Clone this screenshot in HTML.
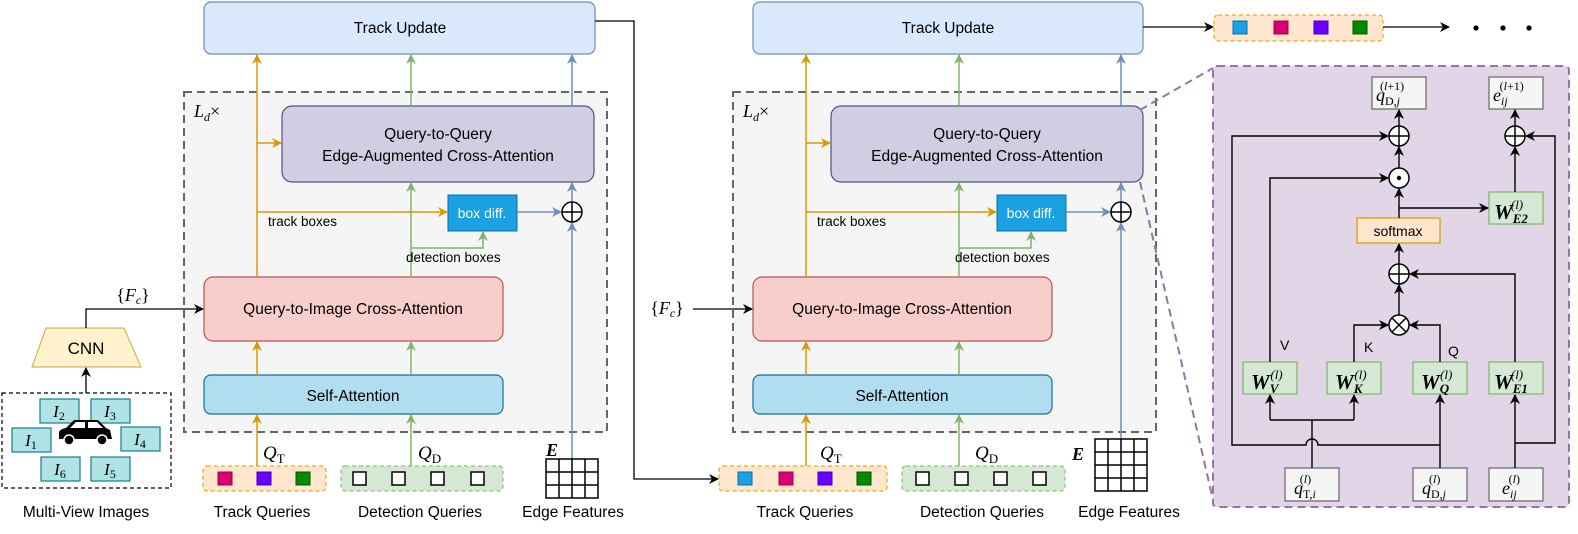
<!DOCTYPE html>
<html><head><meta charset="utf-8"><style>
html,body{margin:0;padding:0;background:#fff;}
svg{display:block;}
.s{font-family:"Liberation Sans",sans-serif;}
.m{font-family:"Liberation Serif",serif;font-style:italic;}
</style></head><body>
<svg width="1578" height="534" viewBox="0 0 1578 534" xmlns="http://www.w3.org/2000/svg">
<defs>
<marker id="ao" markerWidth="10" markerHeight="10" refX="9" refY="5" orient="auto" markerUnits="userSpaceOnUse"><path d="M0,0 L10,5 L0,10 L3,5 z" fill="#d79b00"/></marker>
<marker id="ag" markerWidth="10" markerHeight="10" refX="9" refY="5" orient="auto" markerUnits="userSpaceOnUse"><path d="M0,0 L10,5 L0,10 L3,5 z" fill="#82b366"/></marker>
<marker id="ab" markerWidth="10" markerHeight="10" refX="9" refY="5" orient="auto" markerUnits="userSpaceOnUse"><path d="M0,0 L10,5 L0,10 L3,5 z" fill="#6c8ebf"/></marker>
<marker id="ak" markerWidth="10" markerHeight="10" refX="9" refY="5" orient="auto" markerUnits="userSpaceOnUse"><path d="M0,0 L10,5 L0,10 L3,5 z" fill="#000"/></marker>
</defs>

<!-- ===== LEFT BLOCK ===== -->
<rect x="204" y="2" width="391" height="52" rx="7" fill="#dae8fc" stroke="#6c8ebf" stroke-width="1.2"/>
<text x="400" y="33" class="s" font-size="15.5" text-anchor="middle">Track Update</text>
<rect x="184" y="92" width="423" height="340" fill="#f5f5f5" stroke="#666" stroke-width="2" stroke-dasharray="8,5"/>
<text x="194" y="117" class="m" font-size="18">L<tspan font-size="12" dy="4">d</tspan><tspan dy="-4" font-style="normal">×</tspan></text>
<rect x="282" y="106" width="312" height="76" rx="10" fill="#d0cee2" stroke="#56517e" stroke-width="1.2"/>
<text x="438" y="139" class="s" font-size="15.5" text-anchor="middle">Query-to-Query</text>
<text x="438" y="161" class="s" font-size="15.5" text-anchor="middle">Edge-Augmented Cross-Attention</text>
<rect x="448" y="195" width="69" height="36" fill="#1ba1e2" stroke="#006eaf"/>
<text x="482" y="218" class="s" font-size="14" text-anchor="middle" fill="#fff">box diff.</text>
<rect x="204" y="277" width="299" height="64" rx="9" fill="#f8cecc" stroke="#b85450" stroke-width="1.2"/>
<text x="353" y="314" class="s" font-size="15.5" text-anchor="middle">Query-to-Image Cross-Attention</text>
<rect x="204" y="375" width="299" height="39" rx="7" fill="#b1ddf0" stroke="#10739e" stroke-width="1.2"/>
<text x="353" y="401" class="s" font-size="15.5" text-anchor="middle">Self-Attention</text>
<g stroke="#d79b00" stroke-width="1.5" fill="none">
<line x1="257" y1="277" x2="257" y2="55" marker-end="url(#ao)"/>
<line x1="257" y1="143" x2="281" y2="143" marker-end="url(#ao)"/>
<line x1="257" y1="212" x2="447" y2="212" marker-end="url(#ao)"/>
<line x1="257" y1="375" x2="257" y2="342" marker-end="url(#ao)"/>
<line x1="257" y1="466" x2="257" y2="415" marker-end="url(#ao)"/>
</g>
<text x="268" y="226" class="s" font-size="13.5">track boxes</text>
<g stroke="#82b366" stroke-width="1.5" fill="none">
<line x1="411" y1="277" x2="411" y2="183" marker-end="url(#ag)"/>
<line x1="411" y1="106" x2="411" y2="55" marker-end="url(#ag)"/>
<polyline points="411,248 483,248 483,232" marker-end="url(#ag)"/>
<line x1="411" y1="375" x2="411" y2="342" marker-end="url(#ag)"/>
<line x1="411" y1="466" x2="411" y2="415" marker-end="url(#ag)"/>
</g>
<text x="406" y="262" class="s" font-size="13.5">detection boxes</text>
<g stroke="#6c8ebf" stroke-width="1.5" fill="none">
<line x1="517" y1="212" x2="561" y2="212" marker-end="url(#ab)"/>
<line x1="572" y1="459" x2="572" y2="223" marker-end="url(#ab)"/>
<line x1="572" y1="202" x2="572" y2="183" marker-end="url(#ab)"/>
<line x1="572" y1="106" x2="572" y2="55" marker-end="url(#ab)"/>
</g>
<circle cx="572" cy="212" r="10" fill="#fff" stroke="#000" stroke-width="1.5"/>
<path d="M562,212 H582 M572,202 V222" stroke="#000" stroke-width="1.5"/>
<text x="263" y="459" class="m" font-size="19">Q<tspan font-size="13" dy="4" font-style="normal">T</tspan></text>
<text x="418" y="459" class="m" font-size="19">Q<tspan font-size="13" dy="4" font-style="normal">D</tspan></text>
<rect x="203" y="466" width="123" height="25" rx="4" fill="#ffe6cc" stroke="#d79b00" stroke-dasharray="4,3"/>
<rect x="218" y="472" width="14" height="13" fill="#d80073" stroke="#a50040"/>
<rect x="257" y="472" width="14" height="13" fill="#6a00ff" stroke="#3700cc"/>
<rect x="296" y="472" width="14" height="13" fill="#008a00" stroke="#005700"/>
<rect x="341" y="466" width="162" height="25" rx="4" fill="#d5e8d4" stroke="#82b366" stroke-dasharray="4,3"/>
<g fill="#fff" stroke="#000" stroke-width="1.5">
<rect x="353" y="472" width="13" height="13"/><rect x="392" y="472" width="13" height="13"/>
<rect x="431" y="472" width="13" height="13"/><rect x="471" y="472" width="13" height="13"/>
</g>
<text x="546" y="456" class="m" font-size="18" font-weight="bold">E</text>
<g stroke="#000" stroke-width="1.5" fill="#fff">
<rect x="546" y="459" width="52" height="39"/>
<path d="M559,459V498M572,459V498M585,459V498M546,472H598M546,485H598" fill="none"/>
</g>
<g class="s" font-size="15.5" text-anchor="middle">
<text x="86" y="517">Multi-View Images</text>
<text x="262" y="517">Track Queries</text>
<text x="420" y="517">Detection Queries</text>
<text x="573" y="517">Edge Features</text>
</g>
<polygon points="46,328 124,328 141,367 32,367" fill="#fff2cc" stroke="#d6b656" stroke-width="1.2"/>
<text x="86" y="354" class="s" font-size="17" text-anchor="middle">CNN</text>
<polyline points="86,328 86,309 203,309" fill="none" stroke="#000" stroke-width="1.3" marker-end="url(#ak)"/>
<text x="133" y="301" class="m" font-size="18" text-anchor="middle"><tspan font-style="normal">{</tspan>F<tspan font-size="12" dy="3">c</tspan><tspan dy="-3" font-style="normal">}</tspan></text>
<line x1="86" y1="393" x2="86" y2="368" stroke="#000" stroke-width="1.3" marker-end="url(#ak)"/>
<rect x="2" y="393" width="169" height="95" fill="#fff" stroke="#000" stroke-width="1.2" stroke-dasharray="4,3"/>
<g fill="#b0e3e6" stroke="#0e8088" stroke-width="1.2">
<rect x="40" y="399" width="39" height="24"/><rect x="91" y="399" width="39" height="24"/>
<rect x="12" y="428" width="39" height="24"/><rect x="121" y="427" width="39" height="24"/>
<rect x="41" y="457" width="39" height="24"/><rect x="91" y="457" width="39" height="24"/>
</g>
<g class="m" font-size="17" text-anchor="middle">
<text x="59" y="417">I<tspan font-size="12" dy="3" font-style="normal">2</tspan></text>
<text x="110" y="417">I<tspan font-size="12" dy="3" font-style="normal">3</tspan></text>
<text x="31" y="446">I<tspan font-size="12" dy="3" font-style="normal">1</tspan></text>
<text x="140" y="445">I<tspan font-size="12" dy="3" font-style="normal">4</tspan></text>
<text x="60" y="475">I<tspan font-size="12" dy="3" font-style="normal">6</tspan></text>
<text x="110" y="475">I<tspan font-size="12" dy="3" font-style="normal">5</tspan></text>
</g>
<path d="M59,439 L59,432 Q60,429 66,428 L74,420 L98,420 L106,428 L110,430 L112,439 Z" fill="#000"/>
<path d="M76,422 L85,422 L85,428 L70,428 Z M88,422 L97,422 L103,428 L88,428 Z" fill="#fff"/>
<circle cx="69" cy="440" r="5" fill="#000" stroke="#fff" stroke-width="1.5"/>
<circle cx="102" cy="440" r="5" fill="#000" stroke="#fff" stroke-width="1.5"/>

<polyline points="595,21 634,21 634,479 718,479" fill="none" stroke="#000" stroke-width="1.3" marker-end="url(#ak)"/>

<!-- ===== MIDDLE BLOCK ===== -->
<rect x="753" y="2" width="390" height="52" rx="7" fill="#dae8fc" stroke="#6c8ebf" stroke-width="1.2"/>
<text x="948" y="33" class="s" font-size="15.5" text-anchor="middle">Track Update</text>
<rect x="733" y="92" width="423" height="340" fill="#f5f5f5" stroke="#666" stroke-width="2" stroke-dasharray="8,5"/>
<text x="743" y="117" class="m" font-size="18">L<tspan font-size="12" dy="4">d</tspan><tspan dy="-4" font-style="normal">×</tspan></text>
<rect x="831" y="106" width="312" height="76" rx="10" fill="#d0cee2" stroke="#56517e" stroke-width="1.2"/>
<text x="987" y="139" class="s" font-size="15.5" text-anchor="middle">Query-to-Query</text>
<text x="987" y="161" class="s" font-size="15.5" text-anchor="middle">Edge-Augmented Cross-Attention</text>
<rect x="997" y="195" width="69" height="36" fill="#1ba1e2" stroke="#006eaf"/>
<text x="1031" y="218" class="s" font-size="14" text-anchor="middle" fill="#fff">box diff.</text>
<rect x="753" y="277" width="299" height="64" rx="9" fill="#f8cecc" stroke="#b85450" stroke-width="1.2"/>
<text x="902" y="314" class="s" font-size="15.5" text-anchor="middle">Query-to-Image Cross-Attention</text>
<rect x="753" y="375" width="299" height="39" rx="7" fill="#b1ddf0" stroke="#10739e" stroke-width="1.2"/>
<text x="902" y="401" class="s" font-size="15.5" text-anchor="middle">Self-Attention</text>
<g stroke="#d79b00" stroke-width="1.5" fill="none">
<line x1="806" y1="277" x2="806" y2="55" marker-end="url(#ao)"/>
<line x1="806" y1="143" x2="830" y2="143" marker-end="url(#ao)"/>
<line x1="806" y1="212" x2="996" y2="212" marker-end="url(#ao)"/>
<line x1="806" y1="375" x2="806" y2="342" marker-end="url(#ao)"/>
<line x1="806" y1="466" x2="806" y2="415" marker-end="url(#ao)"/>
</g>
<text x="817" y="226" class="s" font-size="13.5">track boxes</text>
<g stroke="#82b366" stroke-width="1.5" fill="none">
<line x1="959" y1="277" x2="959" y2="183" marker-end="url(#ag)"/>
<line x1="959" y1="106" x2="959" y2="55" marker-end="url(#ag)"/>
<polyline points="959,248 1031,248 1031,232" marker-end="url(#ag)"/>
<line x1="959" y1="375" x2="959" y2="342" marker-end="url(#ag)"/>
<line x1="959" y1="466" x2="959" y2="415" marker-end="url(#ag)"/>
</g>
<text x="955" y="262" class="s" font-size="13.5">detection boxes</text>
<g stroke="#6c8ebf" stroke-width="1.5" fill="none">
<line x1="1066" y1="212" x2="1110" y2="212" marker-end="url(#ab)"/>
<line x1="1121" y1="439" x2="1121" y2="223" marker-end="url(#ab)"/>
<line x1="1121" y1="202" x2="1121" y2="183" marker-end="url(#ab)"/>
<line x1="1121" y1="106" x2="1121" y2="55" marker-end="url(#ab)"/>
</g>
<circle cx="1121" cy="212" r="10" fill="#fff" stroke="#000" stroke-width="1.5"/>
<path d="M1111,212 H1131 M1121,202 V222" stroke="#000" stroke-width="1.5"/>
<text x="667" y="314" class="m" font-size="18" text-anchor="middle"><tspan font-style="normal">{</tspan>F<tspan font-size="12" dy="3">c</tspan><tspan dy="-3" font-style="normal">}</tspan></text>
<line x1="693" y1="309" x2="752" y2="309" stroke="#000" stroke-width="1.3" marker-end="url(#ak)"/>
<text x="820" y="459" class="m" font-size="19">Q<tspan font-size="13" dy="4" font-style="normal">T</tspan></text>
<text x="975" y="459" class="m" font-size="19">Q<tspan font-size="13" dy="4" font-style="normal">D</tspan></text>
<rect x="719" y="466" width="168" height="25" rx="4" fill="#ffe6cc" stroke="#d79b00" stroke-dasharray="4,3"/>
<rect x="738" y="472" width="14" height="13" fill="#1ba1e2" stroke="#006eaf"/>
<rect x="779" y="472" width="14" height="13" fill="#d80073" stroke="#a50040"/>
<rect x="818" y="472" width="14" height="13" fill="#6a00ff" stroke="#3700cc"/>
<rect x="857" y="472" width="14" height="13" fill="#008a00" stroke="#005700"/>
<rect x="902" y="466" width="163" height="25" rx="4" fill="#d5e8d4" stroke="#82b366" stroke-dasharray="4,3"/>
<g fill="#fff" stroke="#000" stroke-width="1.5">
<rect x="916" y="472" width="13" height="13"/><rect x="955" y="472" width="13" height="13"/>
<rect x="994" y="472" width="13" height="13"/><rect x="1033" y="472" width="13" height="13"/>
</g>
<text x="1072" y="460" class="m" font-size="18" font-weight="bold">E</text>
<g stroke="#000" stroke-width="1.5" fill="#fff">
<rect x="1095" y="439" width="52" height="52"/>
<path d="M1108,439V491M1121,439V491M1134,439V491M1095,452H1147M1095,465H1147M1095,478H1147" fill="none"/>
</g>
<g class="s" font-size="15.5" text-anchor="middle">
<text x="805" y="517">Track Queries</text>
<text x="982" y="517">Detection Queries</text>
<text x="1129" y="517">Edge Features</text>
</g>

<line x1="1143" y1="27" x2="1213" y2="27" stroke="#000" stroke-width="1.3" marker-end="url(#ak)"/>
<rect x="1214" y="15" width="169" height="26" rx="4" fill="#ffe6cc" stroke="#d79b00" stroke-dasharray="4,3"/>
<rect x="1233" y="21" width="14" height="13" fill="#1ba1e2" stroke="#006eaf"/>
<rect x="1274" y="21" width="14" height="13" fill="#d80073" stroke="#a50040"/>
<rect x="1314" y="21" width="14" height="13" fill="#6a00ff" stroke="#3700cc"/>
<rect x="1353" y="21" width="14" height="13" fill="#008a00" stroke="#005700"/>
<line x1="1383" y1="27" x2="1449" y2="27" stroke="#000" stroke-width="1.3" marker-end="url(#ak)"/>
<circle cx="1476" cy="28" r="2.6" fill="#000"/><circle cx="1503" cy="28" r="2.6" fill="#000"/><circle cx="1529" cy="28" r="2.6" fill="#000"/>

<g stroke="#9673a6" stroke-width="2" stroke-dasharray="8,5" fill="none">
<line x1="1140" y1="110" x2="1213" y2="68"/>
<line x1="1140" y1="182" x2="1213" y2="500"/>
</g>

<!-- ===== RIGHT PANEL ===== -->
<rect x="1213" y="66" width="356" height="441" rx="4" fill="#e1d5e7" stroke="#9673a6" stroke-width="2" stroke-dasharray="8,5"/>
<g fill="#f5f5f5" stroke="#666" stroke-width="1.2">
<rect x="1372" y="77" width="54" height="32"/><rect x="1489" y="77" width="54" height="32"/>
<rect x="1285" y="468" width="54" height="33"/><rect x="1413" y="468" width="54" height="33"/><rect x="1489" y="468" width="54" height="33"/>
</g>
<g fill="#d5e8d4" stroke="#82b366" stroke-width="1.2">
<rect x="1243" y="362" width="54" height="32"/><rect x="1327" y="362" width="54" height="32"/>
<rect x="1413" y="362" width="54" height="32"/><rect x="1489" y="362" width="54" height="32"/>
<rect x="1489" y="192" width="54" height="32"/>
</g>
<rect x="1357" y="218" width="83" height="25" fill="#ffe6cc" stroke="#d79b00" stroke-width="1.2"/>
<text x="1398" y="236" class="s" font-size="14" text-anchor="middle">softmax</text>
<g stroke="#000" stroke-width="1.4" fill="none">
<line x1="1312" y1="468" x2="1312" y2="420"/>
<polyline points="1270,420 1354,420"/>
<line x1="1270" y1="420" x2="1270" y2="395" marker-end="url(#ak)"/>
<line x1="1354" y1="420" x2="1354" y2="395" marker-end="url(#ak)"/>
<line x1="1440" y1="468" x2="1440" y2="395" marker-end="url(#ak)"/>
<path d="M1440,445 L1318,445 A6,6 0 0 0 1306,445 L1232,445 L1232,136 L1388,136" marker-end="url(#ak)"/>
<line x1="1515" y1="468" x2="1515" y2="395" marker-end="url(#ak)"/>
<polyline points="1515,443 1555,443 1555,136 1526,136" marker-end="url(#ak)"/>
<polyline points="1270,362 1270,178 1388,178" marker-end="url(#ak)"/>
<polyline points="1354,362 1354,325 1388,325" marker-end="url(#ak)"/>
<polyline points="1440,362 1440,325 1410,325" marker-end="url(#ak)"/>
<polyline points="1515,362 1515,274 1410,274" marker-end="url(#ak)"/>
<line x1="1399" y1="315" x2="1399" y2="285" marker-end="url(#ak)"/>
<line x1="1399" y1="264" x2="1399" y2="244" marker-end="url(#ak)"/>
<line x1="1399" y1="218" x2="1399" y2="189" marker-end="url(#ak)"/>
<polyline points="1399,208 1488,208" marker-end="url(#ak)"/>
<line x1="1399" y1="168" x2="1399" y2="147" marker-end="url(#ak)"/>
<line x1="1399" y1="126" x2="1399" y2="110" marker-end="url(#ak)"/>
<line x1="1515" y1="192" x2="1515" y2="147" marker-end="url(#ak)"/>
<line x1="1515" y1="126" x2="1515" y2="110" marker-end="url(#ak)"/>
</g>
<g fill="#fff" stroke="#000" stroke-width="1.5">
<circle cx="1399" cy="136" r="10"/><circle cx="1515" cy="136" r="10"/>
<circle cx="1399" cy="178" r="10"/><circle cx="1399" cy="274" r="10"/><circle cx="1399" cy="325" r="10"/>
</g>
<path d="M1389,136H1409M1399,126V146M1505,136H1525M1515,126V146M1389,274H1409M1399,264V284M1392,318L1406,332M1406,318L1392,332" stroke="#000" stroke-width="1.5"/>
<circle cx="1399" cy="178" r="2.2" fill="#000"/>
<g class="s" font-size="14">
<text x="1280" y="350">V</text><text x="1364" y="352">K</text><text x="1448" y="356">Q</text>
</g>
<g class="m">
<text x="1251" y="389" font-size="21" font-weight="bold">W<tspan font-size="13" dy="4">V</tspan><tspan font-size="13" dx="-8" dy="-14" font-weight="normal">(l)</tspan></text>
<text x="1335" y="389" font-size="21" font-weight="bold">W<tspan font-size="13" dy="4">K</tspan><tspan font-size="13" dx="-8" dy="-14" font-weight="normal">(l)</tspan></text>
<text x="1421" y="389" font-size="21" font-weight="bold">W<tspan font-size="13" dy="4">Q</tspan><tspan font-size="13" dx="-9" dy="-14" font-weight="normal">(l)</tspan></text>
<text x="1494" y="389" font-size="21" font-weight="bold">W<tspan font-size="13" dy="4">E1</tspan><tspan font-size="13" dx="-17" dy="-14" font-weight="normal">(l)</tspan></text>
<text x="1494" y="219" font-size="21" font-weight="bold">W<tspan font-size="13" dy="4">E2</tspan><tspan font-size="13" dx="-17" dy="-14" font-weight="normal">(l)</tspan></text>
<text x="1376" y="101" font-size="18">q<tspan font-size="12" dy="4" font-style="normal">D,</tspan><tspan font-size="12">j</tspan><tspan font-size="12" dx="-20" dy="-15" font-style="normal">(</tspan><tspan font-size="12">l</tspan><tspan font-size="12" font-style="normal">+1)</tspan></text>
<text x="1493" y="101" font-size="18">e<tspan font-size="12" dy="4">ij</tspan><tspan font-size="12" dx="-8" dy="-15" font-style="normal">(</tspan><tspan font-size="12">l</tspan><tspan font-size="12" font-style="normal">+1)</tspan></text>
<text x="1294" y="494" font-size="18">q<tspan font-size="12" dy="4" font-style="normal">T,</tspan><tspan font-size="12">i</tspan><tspan font-size="12" dx="-16" dy="-15" font-style="normal">(</tspan><tspan font-size="12">l</tspan><tspan font-size="12" font-style="normal">)</tspan></text>
<text x="1422" y="494" font-size="18">q<tspan font-size="12" dy="4" font-style="normal">D,</tspan><tspan font-size="12">j</tspan><tspan font-size="12" dx="-17" dy="-15" font-style="normal">(</tspan><tspan font-size="12">l</tspan><tspan font-size="12" font-style="normal">)</tspan></text>
<text x="1502" y="494" font-size="18">e<tspan font-size="12" dy="4">ij</tspan><tspan font-size="12" dx="-8" dy="-15" font-style="normal">(</tspan><tspan font-size="12">l</tspan><tspan font-size="12" font-style="normal">)</tspan></text>
</g>
</svg>
</body></html>
